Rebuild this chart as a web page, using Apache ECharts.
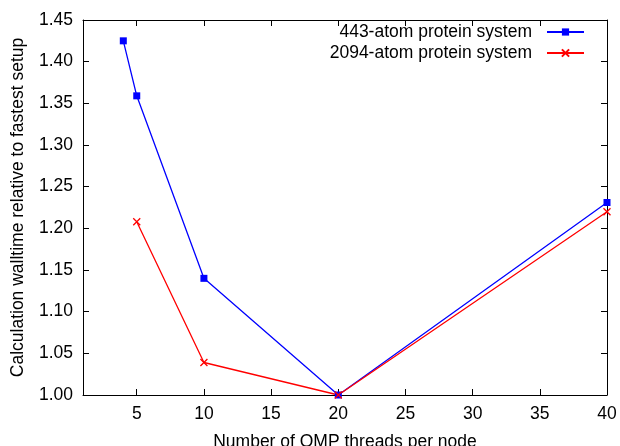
<!DOCTYPE html>
<html>
<head>
<meta charset="UTF-8">
<title>walltime</title>
<script src="https://cdn.jsdelivr.net/npm/echarts@6/dist/echarts.min.js"></script>
<style>
  html, body { margin: 0; padding: 0; background: #fff; }
  #chart { width: 620px; height: 446px; }
</style>
</head>
<body>
<div id="chart"></div>
<script>
// values
var smallThreads = [4, 5, 10, 20, 40];
var smallTime = [1.425, 1.359, 1.140, 1.000, 1.231];
var bigThreads = [5, 10, 20, 40];
var bigTime = [1.208, 1.039, 1.000, 1.220];
var xTicks = [5, 10, 15, 20, 25, 30, 35, 40];
var seriesNames = ['443-atom protein system', '2094-atom protein system'];

function pairs(xs, ys) {
  var out = [];
  for (var i = 0; i < xs.length; i++) out.push([xs[i], ys[i]]);
  return out;
}

var font = 'Liberation Sans, Arial, Helvetica, sans-serif';
var fs = 17.5;
var black = '#000';
var crossPath = 'path://M0,0L10,10M10,0L0,10';

var chart = echarts.init(document.getElementById('chart'));
chart.setOption({
  animation: false,
  grid: { left: 83, right: 13, top: 20, bottom: 51, outerBoundsMode: 'none', containLabel: false },
  legend: {
    orient: 'vertical',
    right: 30,
    top: 18,
    align: 'right',
    itemWidth: 37,
    itemHeight: 9,
    itemGap: 3,
    textStyle: { fontFamily: font, fontSize: fs, color: black, padding: [0, 10, 0, 0] },
    data: seriesNames
  },
  xAxis: [{
    type: 'value',
    min: 1,
    max: 40,
    name: 'Number of OMP threads per node',
    nameLocation: 'middle',
    nameGap: 38,
    nameTextStyle: { fontFamily: font, fontSize: fs, color: black },
    axisLine: { lineStyle: { color: black, width: 1 } },
    axisTick: { inside: true, length: 6, customValues: xTicks, lineStyle: { color: black } },
    axisLabel: { customValues: xTicks, fontFamily: font, fontSize: fs, color: black, margin: 10 },
    splitLine: { show: false }
  }, {
    type: 'value',
    position: 'top',
    min: 1,
    max: 40,
    axisLine: { lineStyle: { color: black, width: 1 } },
    axisTick: { inside: true, length: 6, customValues: xTicks, lineStyle: { color: black } },
    axisLabel: { show: false },
    splitLine: { show: false }
  }],
  yAxis: [{
    type: 'value',
    min: 1,
    max: 1.45,
    interval: 0.05,
    name: 'Calculation walltime relative to fastest setup',
    nameLocation: 'middle',
    nameGap: 56,
    nameTextStyle: { fontFamily: font, fontSize: fs, color: black },
    axisLine: { show: true, lineStyle: { color: black, width: 1 } },
    axisTick: { show: true, inside: true, length: 6, lineStyle: { color: black } },
    axisLabel: {
      fontFamily: font, fontSize: fs, color: black, margin: 10,
      formatter: function (v) { return v.toFixed(2); }
    },
    splitLine: { show: false }
  }, {
    type: 'value',
    position: 'right',
    min: 1,
    max: 1.45,
    interval: 0.05,
    axisLine: { show: true, lineStyle: { color: black, width: 1 } },
    axisTick: { show: true, inside: true, length: 6, lineStyle: { color: black } },
    axisLabel: { show: false },
    splitLine: { show: false }
  }],
  series: [{
    name: seriesNames[0],
    type: 'line',
    data: pairs(smallThreads, smallTime),
    symbol: 'rect',
    symbolSize: 7,
    lineStyle: { color: '#0000ff', width: 1.3 },
    itemStyle: { color: '#0000ff' }
  }, {
    name: seriesNames[1],
    type: 'line',
    data: pairs(bigThreads, bigTime),
    symbol: crossPath,
    symbolSize: 7,
    lineStyle: { color: '#ff0000', width: 1.3 },
    itemStyle: { color: '#ff0000', borderColor: '#ff0000', borderWidth: 1.3 }
  }]
});
</script>
</body>
</html>
